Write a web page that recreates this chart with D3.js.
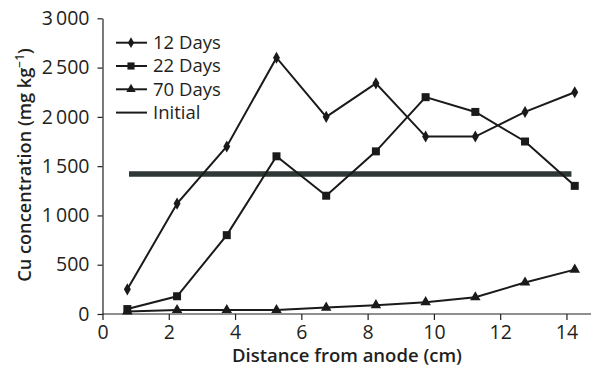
<!DOCTYPE html>
<html>
<head>
<meta charset="utf-8">
<script src="https://cdn.jsdelivr.net/npm/d3@7"></script>
<style>
  html, body { margin: 0; padding: 0; background: #fff; }
  svg { display: block; }
  text { font-family: "Open Sans", "Noto Sans", sans-serif; fill: #231f20; }
</style>
</head>
<body>
<svg id="chart" width="591" height="372"></svg>
<script>
// ---- data ----
const distances = [0.75, 2.25, 3.75, 5.25, 6.75, 8.25, 9.75, 11.25, 12.75, 14.25];
const days12 = [250, 1120, 1700, 2600, 2000, 2340, 1800, 1800, 2050, 2250];
const days22 = [50, 180, 800, 1600, 1200, 1650, 2200, 2050, 1750, 1300];
const days70 = [25, 40, 40, 40, 65, 90, 120, 170, 320, 450];
const initialX = [0.8, 14.15];
const initialY = [1420, 1420];
const xTicks = [0, 2, 4, 6, 8, 10, 12, 14];
const yTicks = [0, 500, 1000, 1500, 2000, 2500, 3000];
const seriesNames = ["12 Days", "22 Days", "70 Days", "Initial"];

const svg = d3.select("#chart");
const x = d3.scaleLinear().domain([0, 15]).range([102.5, 599.6]);
const y = d3.scaleLinear().domain([0, 3000]).range([314, 18.3]);

const fmt = v => {
  const s = String(v);
  return s.length > 3 ? s.slice(0, s.length - 3) + "\u2009" + s.slice(-3) : s;
};

// axes
const xAxis = d3.axisBottom(x).tickValues(xTicks).tickSize(6).tickSizeOuter(0).tickPadding(3).tickFormat(d => d);
const gx = svg.append("g").attr("transform", `translate(0,${y(0)})`).call(xAxis);
gx.select(".domain").attr("d", `M${x(0)},0H591`);
const yAxis = d3.axisLeft(y).tickValues(yTicks).tickSize(5).tickSizeOuter(0).tickPadding(8).tickFormat(fmt);
const gy = svg.append("g").attr("transform", `translate(${x(0)},0)`).call(yAxis);
[gx, gy].forEach(g => {
  g.selectAll("path, line").attr("stroke", "#231f20").attr("stroke-width", 1.2);
  g.selectAll("text").attr("font-size", 19.5).attr("fill", "#231f20")
    .style("font-family", '"Open Sans", sans-serif');
});
gx.selectAll("text").attr("dy", "0.8em");

// titles
svg.append("text").attr("x", 347).attr("y", 362)
  .attr("text-anchor", "middle").attr("font-size", 18.5).attr("font-weight", 600)
  .text("Distance from anode (cm)");
const yt = svg.append("text").attr("transform", "translate(31,165) rotate(-90)")
  .attr("text-anchor", "middle").attr("font-size", 18.2).attr("font-weight", 600);
yt.append("tspan").text("Cu concentration (mg kg");
yt.append("tspan").attr("dy", -7).attr("font-size", 12).text("\u22121");
yt.append("tspan").attr("dy", 7).text(")");

// initial line
const line = d3.line().x(d => x(d[0])).y(d => y(d[1]));
svg.append("path").datum(d3.zip(initialX, initialY)).attr("d", line)
  .attr("stroke", "#2e3836").attr("stroke-width", 5.5).attr("fill", "none");

const seriesList = [
  { name: seriesNames[0], vals: days12, sym: d3.symbolDiamond, size: 42 },
  { name: seriesNames[1], vals: days22, sym: d3.symbolSquare, size: 64 },
  { name: seriesNames[2], vals: days70, sym: d3.symbolTriangle, size: 48 }
];

seriesList.slice().reverse().forEach(s => {
  const pts = d3.zip(distances, s.vals);
  svg.append("path").datum(pts).attr("d", line)
    .attr("stroke", "#1a1a1a").attr("stroke-width", 2).attr("fill", "none");
  svg.append("g").selectAll("path").data(pts).join("path")
    .attr("transform", d => `translate(${x(d[0])},${y(d[1])})`)
    .attr("d", d3.symbol().type(s.sym).size(s.size))
    .attr("fill", "#1a1a1a");
});

// legend
const lg = svg.append("g");
const ly0 = 42.7, ldy = 23.3;
seriesNames.forEach((n, i) => {
  const yy = ly0 + i * ldy;
  lg.append("line").attr("x1", 116).attr("x2", 147).attr("y1", yy).attr("y2", yy)
    .attr("stroke", "#1a1a1a").attr("stroke-width", 2);
  if (i < 3) {
    const s = seriesList[i];
    lg.append("path").attr("transform", `translate(131,${yy})`)
      .attr("d", d3.symbol().type(s.sym).size(s.size * 0.8)).attr("fill", "#1a1a1a");
  }
  lg.append("text").attr("x", 153).attr("y", yy).attr("dy", "0.35em")
    .attr("font-size", 18.5).text(n);
});
</script>
</body>
</html>
